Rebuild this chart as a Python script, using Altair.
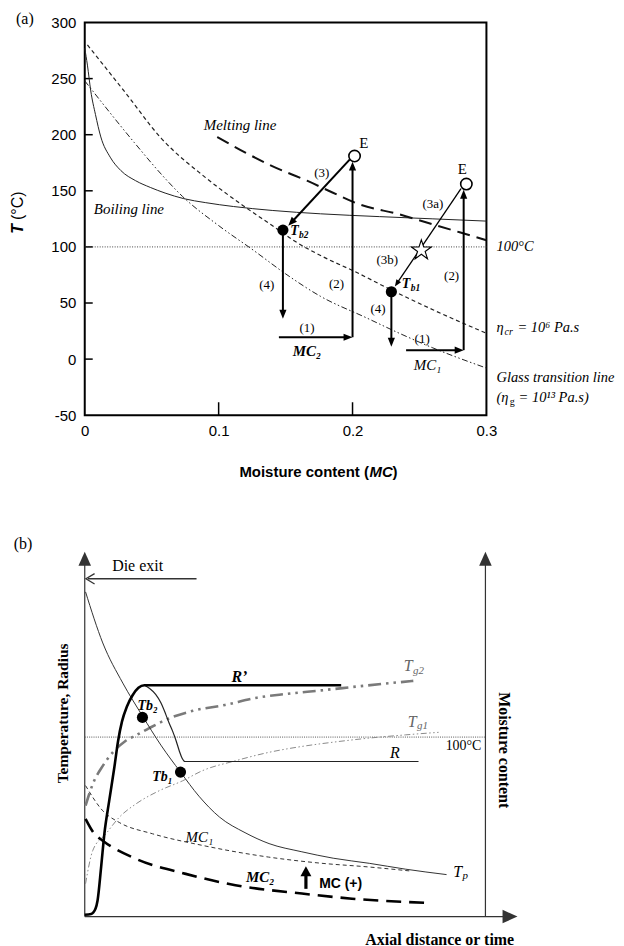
import math
import altair as alt
import pandas as pd

SERIF = "Liberation Serif"
SANS = "Liberation Sans"

# ---------------- panel (a): temperature vs moisture content ----------------
a_xticks = [0, 0.1, 0.2, 0.3]
a_yticks = [-50, 0, 50, 100, 150, 200, 250, 300]
a_inner_xticks = [0.1, 0.2]
a_inner_yticks = [0, 50, 100, 150, 200, 250]

boil_mc = [0.000, 0.002, 0.0045, 0.008, 0.012, 0.019, 0.027, 0.038, 0.049, 0.060, 0.074, 0.090, 0.111, 0.140, 0.176, 0.220, 0.260, 0.300]
boil_t = [277, 262, 239, 218, 198, 180, 168, 159, 153, 148, 143, 139.5, 136, 132.5, 129.5, 127, 125, 123]

melt_mc = [0.099, 0.120, 0.140, 0.166, 0.185, 0.205, 0.235, 0.256, 0.280, 0.300]
melt_t = [198, 184, 172, 159, 148.5, 138, 129, 121.5, 113, 106]

cr_mc = [0.002, 0.030, 0.057, 0.090, 0.118, 0.140, 0.157, 0.180, 0.200, 0.230, 0.260, 0.300]
cr_t = [280, 238, 197, 162, 137, 119, 105, 90, 79, 61, 44, 23]

glass_mc = [0.000, 0.037, 0.057, 0.073, 0.100, 0.126, 0.150, 0.176, 0.210, 0.235, 0.260, 0.300]
glass_t = [248, 193, 165, 145, 119, 97, 76, 56, 37, 23, 10, -8]

seg_x0 = [0.145, 0.200, 0.198, 0.148, 0.240, 0.283, 0.281, 0.229]
seg_t0 = [19.5, 19.5, 178, 115, 8, 8, 152, 60]
seg_x1 = [0.200, 0.200, 0.152, 0.148, 0.283, 0.283, 0.2316, 0.229]
seg_t1 = [19.5, 176, 118.8, 36, 8, 151, 64.7, 11]
seg_w = [2, 2, 2, 2, 2, 2, 1.3, 2]
seg_head = [9, 9, 9, 9, 9, 9, 7, 9]

end_mc = [0.2015, 0.285]
end_t = [181, 156]
tb_mc = [0.148, 0.229]
tb_t = [115, 60]
star_mc = [0.2514]
star_t = [97]

num_text = ["(1)", "(2)", "(3)", "(4)", "(1)", "(2)", "(3a)", "(3b)", "(4)"]
num_mc = [0.166, 0.188, 0.177, 0.136, 0.252, 0.274, 0.260, 0.226, 0.219]
num_t = [28, 67, 166, 66, 18, 74, 138, 88, 45]

# ---------------- panel (b): axial profiles ----------------
tp_x = [0.2, 4.5, 9.5, 14.4, 19.0, 23.9, 28.5, 33.6, 40.0, 46.0, 54.0, 62.0, 71.0, 80.0, 90.3]
tp_y = [89, 75, 64, 55, 47, 39.6, 33, 27.3, 23, 20, 17.8, 16, 14.6, 13, 11.5]

rp_x = [0.0, 1.6, 2.7, 3.2, 4.1, 4.9, 6.1, 7.4, 8.3, 9.3, 10.5, 11.9, 13.4, 14.9, 64.0]
rp_y = [0.5, 0.7, 2.2, 4.4, 13.7, 22.7, 31.7, 41.0, 48.0, 53.5, 57.5, 60.6, 62.7, 63.4, 63.4]

r_x = [14.9, 16.2, 17.7, 19.0, 20.2, 21.0, 21.9, 22.8, 23.6, 24.3, 25.0, 83.3]
r_y = [63.4, 62.5, 60.9, 58.6, 55.5, 53.2, 50.9, 48.2, 45.4, 43.4, 42.5, 42.5]

tg2_x = [0.2, 2.0, 4.5, 7.0, 10.0, 13.0, 16.0, 21.0, 27.0, 35.0, 43.0, 50.0, 59.0, 70.0, 82.0]
tg2_y = [30.4, 36.3, 41.3, 45.0, 48.0, 49.8, 51.6, 54.3, 56.4, 58.0, 60.0, 61.0, 62.0, 63.3, 64.6]

tg1_x = [0.2, 2.0, 5.3, 8.6, 12.8, 18.6, 24.4, 29.4, 37.6, 45.9, 54.0, 62.0, 70.8, 80.0, 88.3]
tg1_y = [9.0, 18.1, 22.7, 27.2, 30.9, 34.5, 37.2, 40.0, 42.7, 45.0, 46.6, 47.8, 48.9, 49.8, 50.5]

mc1_x = [0.2, 4.5, 8.6, 16.9, 29.4, 45.9, 59.2, 70.8, 81.2]
mc1_y = [35.9, 29.0, 25.8, 22.7, 19.5, 16.3, 14.6, 13.6, 12.5]

mc2_x = [0.2, 2.4, 4.5, 12.8, 25.2, 37.6, 54.2, 66.7, 86.1]
mc2_y = [26.8, 22.7, 20.8, 15.8, 11.7, 8.6, 6.3, 4.9, 3.7]

b_tb_x = [14.4, 23.9]
b_tb_y = [54.6, 39.6]
b_100 = 49.2

# ---------------- geometry / scales ----------------
WA, HA = 403, 394
WB, HB = 402, 366
XA = alt.Scale(domain=[0, 0.3], nice=False, zero=False)
YA = alt.Scale(domain=[-50, 300], nice=False, zero=False)
XB = alt.Scale(domain=[0, 100], nice=False, zero=False)
YB = alt.Scale(domain=[0, 100], nice=False, zero=False)
SXA, SYA = WA / 0.3, HA / 350.0
SXB, SYB = WB / 100.0, HB / 100.0

AXA_X = alt.Axis(values=a_xticks, labelExpr="datum.value + ''", title=None, domain=False,
                 ticks=False, grid=False, labelFont=SANS, labelFontSize=15,
                 labelColor="black", labelPadding=8, labelFlush=False)
AXA_Y = alt.Axis(values=a_yticks, labelExpr="datum.value + ''", title=None, domain=False,
                 ticks=False, grid=False, labelFont=SANS, labelFontSize=15,
                 labelColor="black", labelPadding=9, labelFlush=False)

PANELS = {"a": (XA, YA, AXA_X, AXA_Y), "b": (XB, YB, None, None)}

ARROW = "M0,0 L-0.4,1 L0.4,1 Z"
ARROW_WIDE = "M0,0 L-0.45,1 L0.45,1 Z"
ARROW_FAT = "M0,0 L-0.55,1 L0.55,1 Z"
CHEVRON = "M-0.6,1 L0,0 L0.6,1"
STAR = ("M0,-1 L0.2245,-0.309 L0.951,-0.309 L0.363,0.118 L0.588,0.809 L0,0.382 "
        "L-0.588,0.809 L-0.363,0.118 L-0.951,-0.309 L-0.2245,-0.309 Z")


def xy(panel, xf="x", yf="y"):
    xs, ys, ax, ay = PANELS[panel]
    return dict(x=alt.X(f"{xf}:Q", scale=xs, axis=ax),
                y=alt.Y(f"{yf}:Q", scale=ys, axis=ay))


def curve(panel, xs, ys, color="black", width=1.0, dash=None, interp="monotone"):
    df = pd.DataFrame({"x": xs, "y": ys, "i": list(range(len(xs)))})
    kw = dict(color=color, strokeWidth=width, interpolate=interp, strokeCap="butt")
    if dash:
        kw["strokeDash"] = dash
    return alt.Chart(df).mark_line(**kw).encode(order="i:Q", **xy(panel))


def angle_of(x0, y0, x1, y1, sx, sy):
    dx = (x1 - x0) * sx
    dy = -(y1 - y0) * sy
    return math.degrees(math.atan2(dx, -dy)) % 360


def arrows(panel, x0, y0, x1, y1, widths, heads, sx, sy, path=ARROW, color="black"):
    ang, lx, ly = [], [], []
    for a, b, c, d, h in zip(x0, y0, x1, y1, heads):
        ang.append(angle_of(a, b, c, d, sx, sy))
        dxp, dyp = (c - a) * sx, (d - b) * sy
        n = math.hypot(dxp, dyp) or 1.0
        lx.append(c - 0.7 * h * dxp / n / sx)
        ly.append(d - 0.7 * h * dyp / n / sy)
    seg = pd.DataFrame({"x": x0, "y": y0, "x2": lx, "y2": ly, "w": widths})
    lines = alt.Chart(seg).mark_rule(color=color).encode(
        x2="x2:Q", y2="y2:Q", strokeWidth=alt.StrokeWidth("w:Q", scale=None), **xy(panel))
    hd = pd.DataFrame({"x": x1, "y": y1, "a": ang, "s": [4 * h * h for h in heads]})
    tips = alt.Chart(hd).mark_point(shape=path, filled=True, color=color, opacity=1,
                                    strokeWidth=0.5).encode(
        angle=alt.Angle("a:Q", scale=None), size=alt.Size("s:Q", scale=None), **xy(panel))
    return lines + tips


def label(panel, xs, ys, texts, **kw):
    df = pd.DataFrame({"x": xs, "y": ys, "t": texts})
    base = dict(baseline="middle", color="black", align="center", font=SERIF, fontSize=15)
    base.update(kw)
    return alt.Chart(df).mark_text(**base).encode(text="t:N", **xy(panel))


ytick_df = pd.DataFrame({"y": a_inner_yticks})
xtick_df = pd.DataFrame({"x": a_inner_xticks})
yticks = alt.Chart(ytick_df).mark_rule(color="black", strokeWidth=1.5).encode(
    y=alt.Y("y:Q", scale=YA, axis=AXA_Y), x=alt.value(0), x2=alt.value(8))
xticks = alt.Chart(xtick_df).mark_rule(color="black", strokeWidth=1.5).encode(
    x=alt.X("x:Q", scale=XA, axis=AXA_X), y=alt.value(HA), y2=alt.value(HA - 13))

line100_a = alt.Chart(pd.DataFrame({"x": [0.0], "x2": [0.3], "y": [100]})).mark_rule(
    color="#444", strokeWidth=1, strokeDash=[1, 1.5]).encode(x2="x2:Q", **xy("a"))

a_layers = [
    yticks, xticks, line100_a,
    curve("a", boil_mc, boil_t, color="#222", width=1.0),
    curve("a", melt_mc, melt_t, color="#111", width=2.0, dash=[13, 7]),
    curve("a", cr_mc, cr_t, color="#222", width=1.2, dash=[4, 3]),
    curve("a", glass_mc, glass_t, color="#222", width=1.0, dash=[6, 2.5, 1.5, 2.5, 1.5, 2.5]),
    arrows("a", seg_x0, seg_t0, seg_x1, seg_t1, seg_w, seg_head, SXA, SYA),
    alt.Chart(pd.DataFrame({"x": end_mc, "y": end_t})).mark_point(
        shape="circle", filled=True, fill="white", stroke="black", strokeWidth=1.6,
        size=130, opacity=1).encode(**xy("a")),
    alt.Chart(pd.DataFrame({"x": tb_mc, "y": tb_t})).mark_point(
        shape="circle", filled=True, color="black", size=125, opacity=1).encode(**xy("a")),
    alt.Chart(pd.DataFrame({"x": star_mc, "y": star_t})).mark_point(
        shape=STAR, filled=True, fill="white", stroke="black", strokeWidth=1.1,
        size=440, opacity=1).encode(**xy("a")),
    label("a", num_mc, num_t, num_text, fontSize=13),
    label("a", [0.2085, 0.282], [192.5, 169], ["E", "E"], fontSize=15),
    label("a", [0.116, 0.033], [209, 134], ["Melting line", "Boiling line"], fontStyle="italic"),
    label("a", [0.3075, 0.3075], [100, -17], ["100°C", "Glass transition line"],
          fontStyle="italic", align="left", fontSize=14.5),
    label("a", [0.3075, 0.3075], [27.4, -34.4], ["η", "(η"], fontStyle="italic", align="left", fontSize=14.5),
    label("a", [0.3135], [23.8], ["cr"], fontStyle="italic", align="left", fontSize=10),
    label("a", [0.3175], [-38], ["g"], align="left", fontSize=10),
    label("a", [0.3232, 0.3240], [27.4, -34.4], ["= 10⁶ Pa.s", "= 10¹³ Pa.s)"],
          fontStyle="italic", align="left", fontSize=14.5),
    label("a", [0.166], [7], ["MC₂"], fontStyle="italic", fontWeight="bold"),
    label("a", [0.256], [-5.5], ["MC₁"], fontStyle="italic"),
    label("a", [0.1534, 0.2368], [114, 67], ["T", "T"], fontStyle="italic", fontWeight="bold",
          align="left", fontSize=14),
    label("a", [0.1601, 0.2435], [110.5, 63.5], ["b2", "b1"], fontStyle="italic", fontWeight="bold",
          align="left", fontSize=9.5),
    label("a", [-0.0447], [303], ["(a)"], fontSize=16),
    label("a", [-0.0499], [111.7], ["T"], font=SANS, fontSize=16, fontWeight="bold",
          fontStyle="italic", angle=270, align="left"),
    label("a", [-0.0499], [124], ["(°C)"], font=SANS, fontSize=16, angle=270, align="left"),
    label("a", [0.2122], [-101], ["Moisture content ("], font=SANS, fontSize=15,
          fontWeight="bold", align="right"),
    label("a", [0.2127], [-101], ["MC"], font=SANS, fontSize=15, fontWeight="bold",
          fontStyle="italic", align="left"),
    label("a", [0.2298], [-101], [")"], font=SANS, fontSize=15, fontWeight="bold", align="left"),
]
panel_a = alt.layer(*a_layers).properties(
    width=WA, height=HA, view=alt.ViewBackground(stroke="black", strokeWidth=2))

axis_x0 = [0, 100, 0]
axis_y0 = [0, 0, 0]
axis_x1 = [0, 100, 108]
axis_y1 = [100, 100, 0]

b_layers = [
    arrows("b", axis_x0, axis_y0, axis_x1, axis_y1, [1.2, 1.2, 1.2], [14, 14, 15], SXB, SYB,
           path=ARROW_WIDE, color="#333"),
    alt.Chart(pd.DataFrame({"x": [0.8], "x2": [27.9], "y": [92.6]})).mark_rule(
        color="#333", strokeWidth=1.3).encode(x2="x2:Q", **xy("b")),
    alt.Chart(pd.DataFrame({"x": [0.3], "y": [92.6], "a": [270]})).mark_point(
        shape=CHEVRON, filled=False, color="#333", size=300, strokeWidth=1.3, opacity=1).encode(
        angle=alt.Angle("a:Q", scale=None), **xy("b")),
    alt.Chart(pd.DataFrame({"x": [0], "x2": [100], "y": [b_100]})).mark_rule(
        color="#555", strokeWidth=1, strokeDash=[1, 1.2]).encode(x2="x2:Q", **xy("b")),
    curve("b", tg1_x, tg1_y, color="#8a8a8a", width=1.0, dash=[6, 2.5, 1.5, 2.5, 1.5, 2.5]),
    curve("b", tg2_x, tg2_y, color="#7a7a7a", width=2.6, dash=[13, 5, 2.5, 5, 2.5, 5]),
    curve("b", mc1_x, mc1_y, color="#333", width=1.0, dash=[4, 3]),
    curve("b", mc2_x, mc2_y, color="black", width=2.6, dash=[15, 8]),
    curve("b", tp_x, tp_y, color="#333", width=1.0),
    curve("b", r_x, r_y, color="#222", width=1.2),
    curve("b", rp_x, rp_y, color="black", width=2.6),
    alt.Chart(pd.DataFrame({"x": b_tb_x, "y": b_tb_y})).mark_point(
        shape="circle", filled=True, color="black", size=125, opacity=1).encode(**xy("b")),
    arrows("b", [55.2], [7.6], [55.2], [13.8], [3.2], [10], SXB, SYB, path=ARROW_FAT),
    label("b", [-15.4], [102.2], ["(b)"], fontSize=16),
    label("b", [13.2], [96.2], ["Die exit"], fontSize=16),
    label("b", [-5.5], [55.7], ["Temperature, Radius"], fontSize=15.5, fontWeight="bold", angle=270),
    label("b", [104.7], [45.6], ["Moisture content"], fontSize=16, fontWeight="bold", angle=90),
    label("b", [88.6], [-6.3], ["Axial distance or time"], fontSize=16, fontWeight="bold"),
    label("b", [38.6], [65.8], ["R’"], fontSize=16, fontWeight="bold", fontStyle="italic"),
    label("b", [77.4], [44.8], ["R"], fontSize=16, fontStyle="italic"),
    label("b", [79.6, 80.6], [68.6, 53.3], ["T", "T"], fontSize=16, fontStyle="italic",
          align="left", color="#666"),
    label("b", [81.9, 82.9], [67.4, 52.1], ["g2", "g1"], fontSize=11, fontStyle="italic",
          align="left", color="#666"),
    label("b", [92.0], [12.3], ["T"], fontSize=16, fontStyle="italic", align="left"),
    label("b", [94.3], [11.1], ["p"], fontSize=11, fontStyle="italic", align="left"),
    label("b", [99.0], [46.7], ["100°C"], fontSize=14, align="right"),
    label("b", [28.6], [21.9], ["MC₁"], fontStyle="italic"),
    label("b", [43.8], [10.9], ["MC₂"], fontStyle="italic", fontWeight="bold"),
    label("b", [15.7], [57.7], ["Tb₂"], fontSize=14, fontStyle="italic", fontWeight="bold"),
    label("b", [21.9], [38.3], ["Tb₁"], fontSize=14, fontStyle="italic", fontWeight="bold",
          align="right"),
    label("b", [58.5], [9.0], ["MC (+)"], font=SANS, fontSize=14, fontWeight="bold", align="left"),
]
panel_b = alt.layer(*b_layers).properties(width=WB, height=HB)

chart = alt.vconcat(panel_a, panel_b, spacing=53).properties(
    padding={"left": 0, "top": 0, "right": 0, "bottom": 0},
    background="white",
).configure_view(stroke=None)

chart.save("out.html", embed_options={"renderer": "svg", "actions": False})
